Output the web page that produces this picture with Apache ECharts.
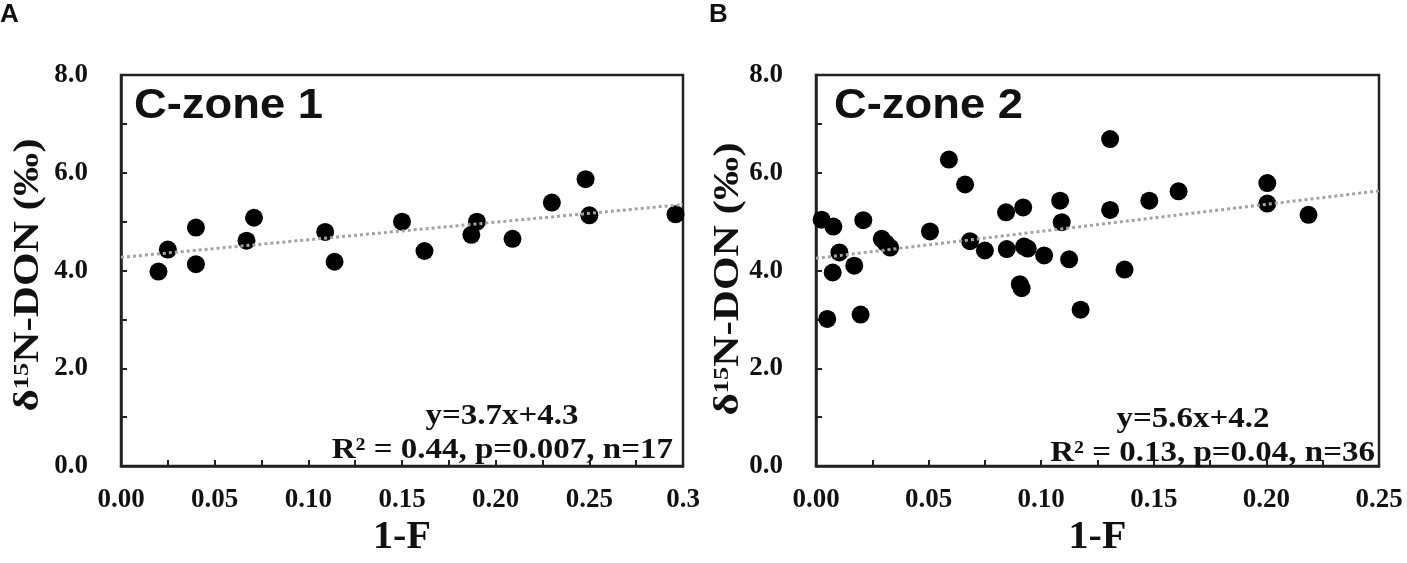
<!DOCTYPE html>
<html>
<head>
<meta charset="utf-8">
<script src="https://cdn.jsdelivr.net/npm/echarts@6/dist/echarts.min.js"></script>
<style>
  html, body { margin: 0; padding: 0; background: #fff; }
  #main { width: 1407px; height: 563px; }
</style>
</head>
<body>
<div id="main"></div>
<script>
const myChart = echarts.init(document.getElementById('main'));

// panel A : C-zone 1
const xA = [0.020, 0.025, 0.040, 0.040, 0.067, 0.071, 0.109, 0.114, 0.150, 0.162, 0.187, 0.190, 0.209, 0.230, 0.248, 0.250, 0.296];
const yA = [3.98, 4.43, 4.88, 4.13, 4.61, 5.08, 4.79, 4.18, 5.00, 4.40, 4.73, 5.00, 4.65, 5.39, 5.87, 5.13, 5.15];
const trendA = [[0, 4.27], [0.3, 5.35]];

// panel B : C-zone 2
const xB = [0.0025, 0.0077, 0.0104, 0.0074, 0.005, 0.017, 0.0198, 0.021, 0.0292, 0.0329, 0.031, 0.0506,
            0.059, 0.0662, 0.0684, 0.075, 0.0844, 0.0847, 0.092, 0.0924, 0.094, 0.0913, 0.0905, 0.1013,
            0.1084, 0.1091, 0.1124, 0.1175, 0.1306, 0.1306, 0.137, 0.148, 0.161, 0.2004, 0.2004, 0.2187];
const yB = [5.04, 4.90, 4.37, 3.96, 3.01, 4.10, 3.10, 5.03, 4.65, 4.47, 4.56, 4.80,
            6.27, 5.76, 4.60, 4.41, 5.19, 4.44, 5.29, 4.49, 4.45, 3.64, 3.72, 4.31,
            5.43, 4.99, 4.23, 3.20, 6.69, 5.24, 4.02, 5.43, 5.62, 5.79, 5.37, 5.14];
const trendB = [[0, 4.25], [0.25, 5.63]];

const zoneNames = ['C-zone 1', 'C-zone 2'];
const eqTexts = ['y=3.7x+4.3', 'y=5.6x+4.2'];
const statTexts = ['R\u00B2 = 0.44, p=0.007, n=17', 'R\u00B2 = 0.13, p=0.04, n=36'];
const yTitle = '{d|\u03B4}{s|15}{d|N-DON (\u2030)}';

const serif = '"Liberation Serif", "Times New Roman", serif';
const sans = '"Liberation Sans", Arial, sans-serif';
const axisCol = '#222';
const ink = '#111';

function pairs(xs, ys) {
    return xs.map((x, i) => [x, ys[i]]);
}

function xAxisFor(gi, max) {
    return {
        gridIndex: gi, type: 'value', min: 0, max: max, interval: 0.05,
        name: '1-F', nameLocation: 'middle', nameGap: 38,
        nameTextStyle: {fontFamily: serif, fontWeight: 'bold', fontSize: 40, color: ink},
        axisLine: {show: true, onZero: false, lineStyle: {color: axisCol, width: 2.5}},
        axisTick: {show: true, inside: true, length: 6, lineStyle: {color: axisCol, width: 2}},
        minorTick: {show: true, splitNumber: 2, length: 6, lineStyle: {color: axisCol, width: 2}},
        splitLine: {show: false},
        axisLabel: {
            margin: 20, fontFamily: serif, fontWeight: 'bold', fontSize: 27, color: ink,
            showMaxLabel: true,
            formatter: v => (Math.abs(v - 0.3) < 1e-9 ? '0.3' : v.toFixed(2))
        }
    };
}

function yAxisFor(gi) {
    return {
        gridIndex: gi, type: 'value', min: 0, max: 8, interval: 2,
        axisLine: {show: true, onZero: false, lineStyle: {color: axisCol, width: 2.5}},
        axisTick: {show: true, inside: true, length: 6, lineStyle: {color: axisCol, width: 2}},
        minorTick: {show: true, splitNumber: 2, length: 6, lineStyle: {color: axisCol, width: 2}},
        splitLine: {show: false},
        axisLabel: {
            margin: 33, fontFamily: serif, fontWeight: 'bold', fontSize: 27, color: ink,
            formatter: v => v.toFixed(1)
        }
    };
}

function dots(i, data) {
    return {
        type: 'scatter', xAxisIndex: i, yAxisIndex: i, data: data,
        symbol: 'circle', symbolSize: 18, itemStyle: {color: '#000', opacity: 1}, z: 2, silent: true
    };
}

function trend(i, data) {
    return {
        type: 'line', xAxisIndex: i, yAxisIndex: i, data: data, symbol: 'none', z: 3, silent: true,
        lineStyle: {color: '#a3a3a3', width: 3, type: [3, 3]}
    };
}

function label(x, y, text, font, align, sx) {
    return {
        type: 'text', x: x, y: y, z: 10, scaleX: sx || 1,
        style: {text: text, font: font, fill: ink, textAlign: align, textVerticalAlign: 'middle'}
    };
}

function sideTitle(x, y) {
    return {
        type: 'text', x: x, y: y, z: 10, rotation: Math.PI / 2, scaleX: 1.2,
        style: {
            text: yTitle, fill: ink, textAlign: 'center', textVerticalAlign: 'middle',
            rich: {
                d: {fontFamily: serif, fontWeight: 'bold', fontSize: 36, fill: ink},
                s: {fontFamily: serif, fontWeight: 'bold', fontSize: 22, fill: ink, verticalAlign: 'top', padding: [0, 0, 14, 0]}
            }
        }
    };
}

option = {
    backgroundColor: '#fff',
    animation: false,
    grid: [
        {left: 121, top: 75, width: 562, height: 400, show: true, borderColor: axisCol, borderWidth: 2.5, backgroundColor: 'transparent'},
        {left: 816, top: 75, width: 563, height: 408, show: true, borderColor: axisCol, borderWidth: 2.5, backgroundColor: 'transparent'}
    ],
    xAxis: [xAxisFor(0, 0.3), xAxisFor(1, 0.25)],
    yAxis: [yAxisFor(0), yAxisFor(1)],
    series: [
        dots(0, pairs(xA, yA)),
        trend(0, trendA),
        dots(1, pairs(xB, yB)),
        trend(1, trendB)
    ],
    graphic: [
        label(0, 15, 'A', 'bold 26px ' + sans, 'left'),
        label(709, 15, 'B', 'bold 26px ' + sans, 'left'),
        label(134, 106, zoneNames[0], 'bold 42px ' + sans, 'left', 1.08),
        label(834, 106, zoneNames[1], 'bold 42px ' + sans, 'left', 1.08),
        label(502, 416, eqTexts[0], 'bold 30px ' + serif, 'center', 1.1),
        label(673, 450, statTexts[0], 'bold 30px ' + serif, 'right', 1.1),
        label(1193, 419, eqTexts[1], 'bold 30px ' + serif, 'center', 1.1),
        label(1375, 453, statTexts[1], 'bold 30px ' + serif, 'right', 1.1),
        sideTitle(29, 275),
        sideTitle(729, 279)
    ]
};

myChart.setOption(option);
</script>
</body>
</html>
